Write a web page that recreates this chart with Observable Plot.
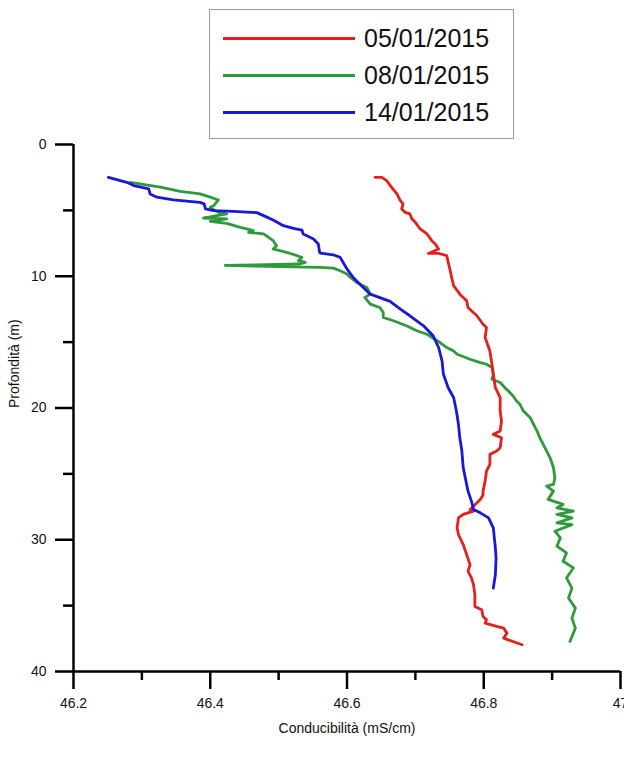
<!DOCTYPE html>
<html>
<head>
<meta charset="utf-8">
<script src="https://cdn.jsdelivr.net/npm/d3@7"></script>
<script src="https://cdn.jsdelivr.net/npm/@observablehq/plot@0.6"></script>
<style>
  html, body { margin: 0; padding: 0; background: #fff; }
  #wrap { position: relative; width: 624px; height: 758px; overflow: hidden; font-family: "Liberation Sans", Arial, sans-serif; }
  #legend { position: absolute; left: 209px; top: 9px; width: 305px; height: 130px; border: 1px solid #999; box-sizing: border-box; background: #fff; }
  #legend .row { position: absolute; left: 0; height: 30px; display: flex; align-items: center; }
  #legend .sw { width: 132px; height: 3px; margin-left: 13px; margin-right: 9px; }
  #legend .lbl { font-size: 25px; color: #111; }
</style>
</head>
<body>
<div id="wrap"><div id="chart"></div><div id="legend"></div></div>
<script>
// Series labels and colours
const seriesNames = ["05/01/2015", "08/01/2015", "14/01/2015"];
const seriesColors = ["#e3211c", "#2f9a3b", "#1a17d6"];

// 05/01/2015 (red): conductivity (mS/cm) and depth (m)
const redCond = [46.641,46.651,46.658,46.665,46.673,46.678,46.682,46.680,46.685,46.692,46.695,46.700,46.707,46.717,46.724,46.729,46.734,46.719,46.734,46.746,46.748,46.751,46.753,46.756,46.765,46.775,46.777,46.790,46.799,46.804,46.802,46.809,46.812,46.814,46.817,46.824,46.824,46.826,46.824,46.814,46.826,46.824,46.819,46.809,46.809,46.804,46.802,46.799,46.799,46.795,46.785,46.780,46.785,46.770,46.763,46.761,46.763,46.770,46.775,46.780,46.777,46.782,46.785,46.787,46.787,46.797,46.799,46.804,46.802,46.819,46.829,46.834,46.829,46.856];
const redDepth = [2.49,2.49,2.74,3.24,3.75,4.26,4.51,4.89,5.15,5.27,5.65,5.91,6.41,6.79,7.30,7.55,7.93,8.27,8.27,8.44,8.95,9.58,10.09,10.72,11.36,11.86,12.37,13.00,13.64,13.89,14.65,15.67,16.68,17.44,18.46,19.22,20.23,20.99,21.75,22.00,22.26,23.02,23.27,23.52,24.28,24.79,25.55,26.31,26.60,26.94,27.45,27.70,27.83,28.08,28.34,29.10,29.60,30.37,31.13,31.89,32.40,32.90,33.41,34.17,35.06,35.31,35.82,36.07,36.33,36.58,36.71,37.09,37.47,37.97];

// 08/01/2015 (green)
const greenCond = [46.283,46.297,46.327,46.356,46.385,46.400,46.412,46.405,46.400,46.412,46.424,46.390,46.424,46.400,46.424,46.444,46.453,46.463,46.456,46.478,46.492,46.497,46.492,46.517,46.527,46.534,46.529,46.539,46.531,46.422,46.483,46.561,46.580,46.590,46.600,46.605,46.614,46.629,46.634,46.626,46.634,46.648,46.653,46.653,46.668,46.687,46.702,46.717,46.736,46.746,46.756,46.761,46.780,46.795,46.804,46.812,46.814,46.812,46.824,46.831,46.836,46.843,46.848,46.853,46.858,46.868,46.873,46.878,46.882,46.887,46.892,46.897,46.902,46.904,46.902,46.892,46.902,46.894,46.916,46.907,46.931,46.907,46.929,46.907,46.929,46.904,46.912,46.907,46.921,46.916,46.931,46.921,46.929,46.924,46.934,46.929,46.934,46.926];
const greenDepth = [2.87,2.99,3.24,3.55,3.75,4.00,4.21,4.64,4.77,5.15,5.27,5.58,5.65,5.83,5.98,6.29,6.41,6.54,6.67,6.79,7.30,7.68,7.93,8.27,8.44,8.57,8.82,8.95,9.07,9.18,9.25,9.33,9.38,9.58,9.83,10.09,10.47,10.85,11.36,11.61,12.12,12.37,12.75,13.13,13.38,13.76,14.14,14.40,15.03,15.41,15.67,15.92,16.30,16.55,16.68,16.93,17.44,17.82,18.07,18.46,18.71,19.09,19.47,19.72,20.23,20.74,21.24,21.75,22.26,22.76,23.27,23.78,24.54,25.30,25.80,25.93,26.31,26.94,27.32,27.58,27.83,28.08,28.34,28.72,28.85,29.35,29.86,30.49,31.00,31.63,32.14,32.90,33.67,34.42,35.19,35.95,36.71,37.72];

// 14/01/2015 (blue)
const blueCond = [46.251,46.278,46.288,46.310,46.312,46.322,46.346,46.385,46.391,46.393,46.405,46.434,46.468,46.478,46.492,46.507,46.522,46.534,46.536,46.551,46.558,46.560,46.561,46.580,46.590,46.600,46.609,46.619,46.634,46.663,46.678,46.692,46.712,46.726,46.734,46.739,46.741,46.748,46.756,46.760,46.763,46.765,46.768,46.770,46.775,46.777,46.782,46.785,46.795,46.807,46.814,46.817,46.818,46.817,46.814];
const blueDepth = [2.49,2.87,3.12,3.37,3.75,4.00,4.20,4.39,4.51,4.89,5.02,5.07,5.17,5.40,5.73,6.16,6.36,6.49,6.79,7.17,7.55,8.19,8.25,8.37,8.57,9.45,10.09,10.60,11.36,11.91,12.50,13.00,13.76,14.52,15.41,16.43,17.44,18.46,19.22,20.23,21.24,22.26,23.27,24.54,25.80,26.31,27.07,27.70,27.96,28.34,29.10,30.62,31.38,32.65,33.67];

// Axis ticks and labels
const xMajor = [46.2, 46.4, 46.6, 46.8, 47];
const xMinor = [46.3, 46.5, 46.7, 46.9];
const yMajor = [0, 10, 20, 30, 40];
const yMinor = [5, 15, 25, 35];
const xLabel = "Conducibilità (mS/cm)";
const yLabel = "Profondità (m)";

const series = [
  {name: seriesNames[0], cond: redCond, depth: redDepth},
  {name: seriesNames[1], cond: greenCond, depth: greenDepth},
  {name: seriesNames[2], cond: blueCond, depth: blueDepth}
];
const rows = [];
for (const s of series) s.cond.forEach((c, i) => rows.push({series: s.name, c, d: s.depth[i]}));
const drawOrder = [seriesNames[1], seriesNames[0], seriesNames[2]];
const ordered = drawOrder.flatMap(n => rows.filter(r => r.series === n));

const font = "'Liberation Sans', Arial, sans-serif";
const chart = Plot.plot({
  width: 624,
  height: 758,
  marginLeft: 73,
  marginRight: 4,
  marginTop: 144,
  marginBottom: 87,
  style: {fontFamily: font, background: "transparent", overflow: "visible"},
  x: {domain: [46.2, 47]},
  y: {domain: [0, 40], reverse: true},
  color: {domain: seriesNames, range: seriesColors},
  marks: [
    Plot.line(ordered, {x: "c", y: "d", z: "series", stroke: "series", strokeWidth: 2.8, strokeLinejoin: "round", strokeLinecap: "round"}),
    Plot.axisX({ticks: xMajor, tickSize: 18, tickPadding: 9, tickFormat: d => String(+d.toFixed(1)), strokeWidth: 2.5, stroke: "#000", fontSize: 14, fill: "#111", label: null, anchor: "bottom"}),
    Plot.axisX({ticks: xMinor, tickSize: 9, tickFormat: () => "", strokeWidth: 2.5, stroke: "#000", label: null, anchor: "bottom"}),
    Plot.axisY({ticks: yMajor, tickSize: 18, tickPadding: 9, strokeWidth: 2.5, stroke: "#000", fontSize: 14, fill: "#111", label: null, anchor: "left"}),
    Plot.axisY({ticks: yMinor, tickSize: 10, tickFormat: () => "", strokeWidth: 2.5, stroke: "#000", label: null, anchor: "left"}),
    Plot.ruleY([40], {stroke: "#000", strokeWidth: 2.5}),
    Plot.ruleX([46.2], {stroke: "#000", strokeWidth: 2.5}),
    Plot.text([xLabel], {frameAnchor: "bottom", dy: 61, fontSize: 14, fill: "#111"}),
    Plot.text([yLabel], {frameAnchor: "left", dx: -59, rotate: -90, fontSize: 14, fill: "#111"})
  ]
});
document.getElementById("chart").appendChild(chart);

// Legend
const legend = document.getElementById("legend");
seriesNames.forEach((n, i) => {
  const row = document.createElement("div");
  row.className = "row";
  row.style.top = (13 + i * 37) + "px";
  row.innerHTML = `<div class="sw" style="background:${seriesColors[i]}"></div><span class="lbl">${n}</span>`;
  legend.appendChild(row);
});
</script>
</body>
</html>
